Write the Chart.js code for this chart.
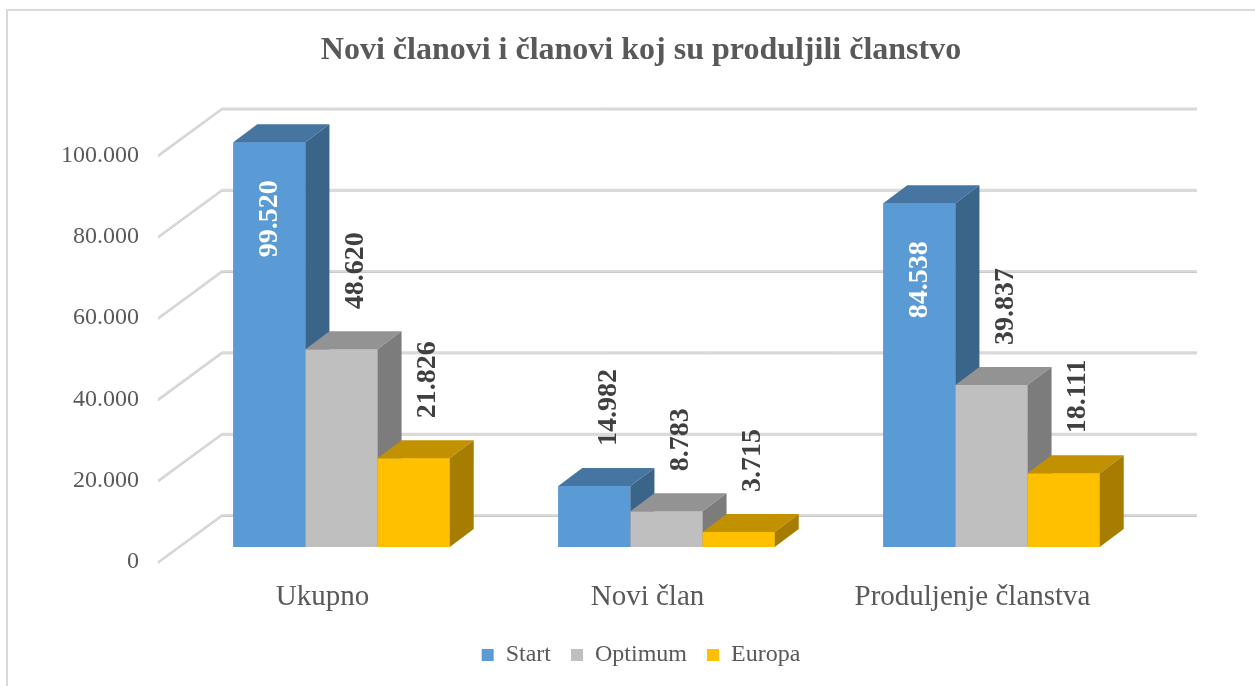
<!DOCTYPE html>
<html>
<head>
<meta charset="utf-8">
<title>Novi članovi i članovi koj su produljili članstvo</title>
<script src="https://cdn.jsdelivr.net/npm/chart.js@4.4.1/dist/chart.umd.min.js"></script>
<style>
  body { margin: 0; background: #fff; overflow: hidden; }
  #frame { position: absolute; left: 6px; top: 9px; width: 1400px; height: 900px; border-left: 2px solid #d9d9d9; border-top: 2px solid #d9d9d9; }
  #wrap { position: absolute; left: 0; top: 0; width: 1255px; height: 686px; }
</style>
</head>
<body>
<div id="frame"></div>
<div id="wrap"><canvas id="myChart"></canvas></div>
<script>
const categories = ['Ukupno', 'Novi član', 'Produljenje članstva'];
const seriesNames = ['Start', 'Optimum', 'Europa'];
const startValues = [99520, 14982, 84538];
const optimumValues = [48620, 8783, 39837];
const europaValues = [21826, 3715, 18111];
const yTicks = [0, 20000, 40000, 60000, 80000, 100000];

const frontColors = ['#5b9bd5', '#bfbfbf', '#ffc000'];
const topColors = ['#4675a1', '#939393', '#c29100'];
const sideColors = ['#3b6489', '#7c7c7c', '#a67d00'];

const FONT = '"Liberation Serif", "Times New Roman", serif';
const TEXT = '#595959';

// 3d offsets (bar depth, back wall, front edge of the floor)
const DX = 24, DY = -18;
const WALL_DX = 43, WALL_DY = -32;
const EDGE_DX = -21, EDGE_DY = 15;

function fmt(v) {
    return String(v).replace(/\B(?=(\d{3})+(?!\d))/g, '.');
}

function quad(ctx, pts, color) {
    ctx.fillStyle = color;
    ctx.beginPath();
    ctx.moveTo(pts[0], pts[1]);
    for (var k = 2; k < pts.length; k += 2) ctx.lineTo(pts[k], pts[k + 1]);
    ctx.closePath();
    ctx.fill();
}

var depth3d = {
    id: 'depth3d',
    beforeDatasetsDraw(chart) {
        //back wall grid + side wall lines
        var ctx = chart.ctx, y = chart.scales.y, area = chart.chartArea;
        ctx.save();
        yTicks.forEach(v => {
            var p = y.getPixelForValue(v);
            ctx.lineWidth = 2;
            ctx.strokeStyle = '#dadada';
            ctx.beginPath();
            ctx.moveTo(area.left + EDGE_DX, p + EDGE_DY);
            ctx.lineTo(area.left + WALL_DX, p + WALL_DY);
            ctx.lineTo(area.right + WALL_DX, p + WALL_DY);
            ctx.stroke();
            ctx.lineWidth = 1;
            ctx.strokeStyle = '#c9c9c9';
            ctx.beginPath();
            ctx.moveTo(area.left + EDGE_DX, p + EDGE_DY + 1.5);
            ctx.lineTo(area.left + WALL_DX, p + WALL_DY + 1.5);
            ctx.lineTo(area.right + WALL_DX, p + WALL_DY + 1.5);
            ctx.stroke();
        });
        ctx.restore();
    },
    afterDatasetsDraw(chart) {
        var ctx = chart.ctx;
        var n = chart.data.datasets.length;
        ctx.save();
        // boxes, series by series from left so the next front face hides the side
        for (var i = 0; i < n; i++) {
            chart.getDatasetMeta(i).data.forEach(bar => {
                var b = bar.getProps(['x', 'y', 'base', 'width'], true);
                var l = b.x - b.width / 2, r = b.x + b.width / 2;
                quad(ctx, [l, b.y, r, b.y, r, b.base, l, b.base], frontColors[i]);
                quad(ctx, [l, b.y, l + DX, b.y + DY, r + DX, b.y + DY, r, b.y], topColors[i]);
                quad(ctx, [r, b.y, r + DX, b.y + DY, r + DX, b.base + DY, r, b.base], sideColors[i]);
            });
        }
        //value labels, turned 90 degrees
        ctx.font = 'bold 28px ' + FONT;
        ctx.textBaseline = 'middle';
        chart.data.datasets.forEach((ds, i) => {
            chart.getDatasetMeta(i).data.forEach((bar, j) => {
                var b = bar.getProps(['x', 'y', 'base'], true);
                var inside = i == 0 && (b.base - b.y) > 150;
                ctx.save();
                if (inside) {
                    ctx.translate(b.x, b.y + 38);
                    ctx.textAlign = 'right';
                    ctx.fillStyle = '#ffffff';
                } else {
                    ctx.translate(b.x + 14, b.y - 40);
                    ctx.textAlign = 'left';
                    ctx.fillStyle = '#404040';
                }
                ctx.rotate(-Math.PI / 2);
                ctx.fillText(fmt(ds.data[j]), 0, 0);
                ctx.restore();
            });
        });
        ctx.restore();
    }
};

var ctx = document.getElementById('myChart').getContext('2d');
var myChart = new Chart(ctx, {
    type: 'bar',
    data: {
        labels: categories,
        datasets: [
            { label: seriesNames[0], data: startValues, backgroundColor: frontColors[0] },
            { label: seriesNames[1], data: optimumValues, backgroundColor: frontColors[1] },
            { label: seriesNames[2], data: europaValues, backgroundColor: frontColors[2] }
        ]
    },
    options: {
        responsive: true,
        maintainAspectRatio: false,
        animation: false,
        layout: { padding: { left: 128, right: 101, top: 0, bottom: 9 } },
        datasets: { bar: { categoryPercentage: 0.666, barPercentage: 1, borderWidth: 0 } },
        plugins: {
            title: {
                display: true,
                text: 'Novi članovi i članovi koj su produljili članstvo',
                color: TEXT,
                font: { family: FONT, size: 32, weight: 'bold' },
                padding: { top: 32, bottom: 70 }
            },
            legend: {
                position: 'bottom',
                labels: {
                    color: TEXT,
                    font: { family: FONT, size: 24 },
                    boxWidth: 12,
                    boxHeight: 12,
                    padding: 20
                }
            },
            tooltip: { enabled: false }
        },
        scales: {
            x: {
                grid: { display: false, drawTicks: false },
                border: { display: false },
                ticks: { color: TEXT, font: { family: FONT, size: 29 }, padding: 33, labelOffset: -19 },
                afterFit: s => { s.height = 76; }
            },
            y: {
                min: yTicks[0],
                max: yTicks[yTicks.length - 1],
                grid: { display: false, drawTicks: false },
                border: { display: false },
                // mirrored so the labels are not clipped to the narrow axis box
                ticks: { stepSize: 20000, color: TEXT, font: { family: FONT, size: 24 },
                    mirror: true, crossAlign: 'far', padding: -118, labelOffset: 15,
                    callback: function(value) { return fmt(value); } },
                afterFit: s => { s.width = 51; }
            }
        }
    },
    plugins: [depth3d]
});
</script>
</body>
</html>
